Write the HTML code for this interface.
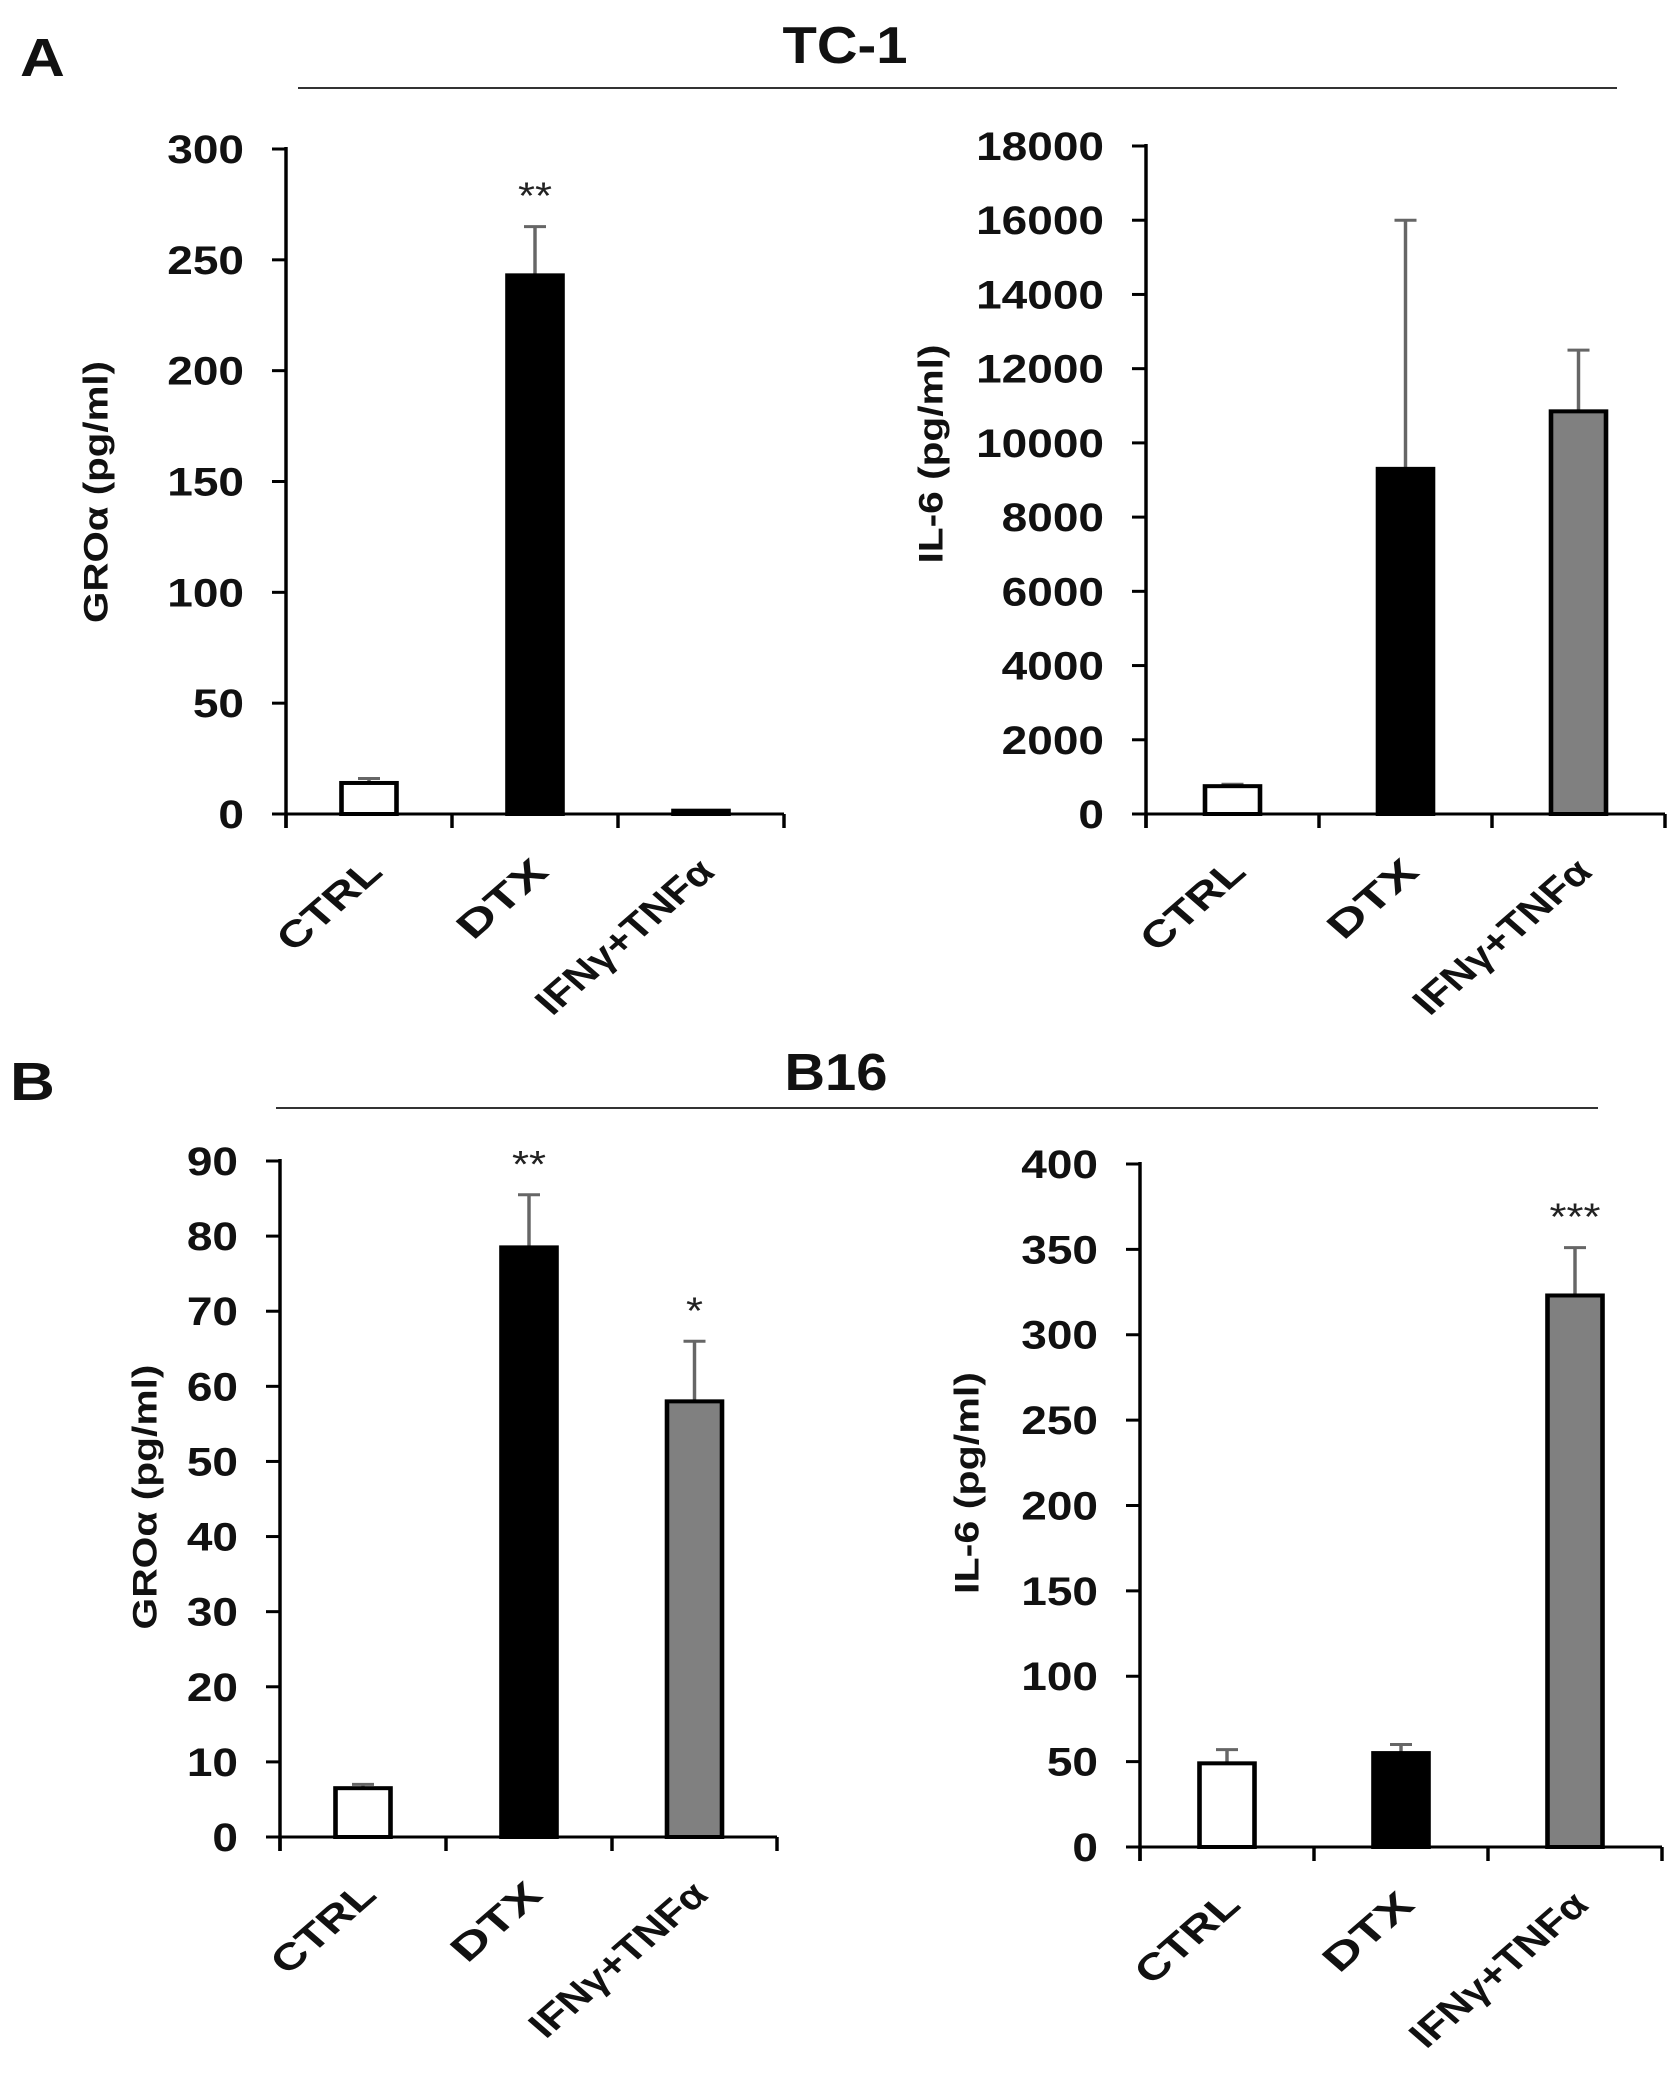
<!DOCTYPE html>
<html><head><meta charset="utf-8">
<style>
html,body{margin:0;padding:0;background:#fff;}
svg{display:block;}
text{font-family:"Liberation Sans",Arial,sans-serif;}
</style></head>
<body>
<svg id="fig" width="1677" height="2078" viewBox="0 0 1677 2078">
<g id="root" transform="scale(1.15,1)"></g>
</svg>
<script>
const SX = 1.15;
const categories = ["CTRL", "DTX", "IFNγ+TNFα"];
const fills = ["#ffffff", "#000000", "#808080"];
// Panel A left: GROα TC-1
const aLeftValues = [14, 243, 1.5];
const aLeftErrors = [16, 265, 1.5];
const aLeftTicks = [0, 50, 100, 150, 200, 250, 300];
const aLeftStars = ["", "**", ""];
// Panel A right: IL-6 TC-1
const aRightValues = [750, 9300, 10850];
const aRightErrors = [800, 16000, 12500];
const aRightTicks = [0, 2000, 4000, 6000, 8000, 10000, 12000, 14000, 16000, 18000];
const aRightStars = ["", "", ""];
// Panel B left: GROα B16
const bLeftValues = [6.5, 78.5, 58];
const bLeftErrors = [7, 85.5, 66];
const bLeftTicks = [0, 10, 20, 30, 40, 50, 60, 70, 80, 90];
const bLeftStars = ["", "**", "*"];
// Panel B right: IL-6 B16
const bRightValues = [49, 55, 323];
const bRightErrors = [57, 60, 351];
const bRightTicks = [0, 50, 100, 150, 200, 250, 300, 350, 400];
const bRightStars = ["", "", "***"];

const NS = "http://www.w3.org/2000/svg";
const root = document.getElementById("root");
function mk(tag, attrs, parent, txt){
  const e = document.createElementNS(NS, tag);
  for (const k in attrs) e.setAttribute(k, attrs[k]);
  if (txt !== undefined) e.textContent = txt;
  (parent||root).appendChild(e);
  return e;
}
const X = x => x / SX;

function panel(cfg){
  const g = mk("g", {});
  
  
  const max = cfg.ticks[cfg.ticks.length-1];
  const yS = v => cfg.y0 - (v / max) * (cfg.y0 - cfg.yTop);
  // y axis
  const ya = mk("line", {x1:X(cfg.ax), x2:X(cfg.ax), y1:cfg.yTop-2, y2:cfg.y0+14, stroke:"#000","stroke-width":3}, g);
  
  
  cfg.ticks.forEach(t => {
    const y = yS(t);
    mk("line", {x1:X(cfg.ax-14), x2:X(cfg.ax), y1:y, y2:y, stroke:"#000","stroke-width":3}, g);
    const tl = mk("text", {x:X(cfg.ax-42), y:y+14, "text-anchor":"end", "font-size":40, "font-weight":"bold", fill:"#111"}, g, String(t));
    
    
  });
  // x axis
  const xa = mk("line", {x1:X(cfg.ax), x2:X(cfg.xt[3]), y1:cfg.y0, y2:cfg.y0, stroke:"#000","stroke-width":3}, g);
  
  
  cfg.xt.forEach(x => mk("line", {x1:X(x), x2:X(x), y1:cfg.y0, y2:cfg.y0+14, stroke:"#000","stroke-width":3}, g));
  // y title
  const yt = mk("text", {x:0, y:0, "text-anchor":"middle", "font-size":30, "font-weight":"bold", fill:"#111",
    textLength:cfg.titleLen, lengthAdjust:"spacingAndGlyphs",
    transform:`translate(${X(cfg.titleX)+10},${cfg.titleY}) rotate(-90)`}, g, cfg.title);
  
  
  // bars
  const labelLens = [112, 95, 202];
  cfg.values.forEach((v, i) => {
    const cx = (cfg.xt[i] + cfg.xt[i+1]) / 2;
    const w = 55;
    const yTopBar = yS(v), yErr = yS(cfg.errors[i]);
    const el = mk("line", {x1:X(cx), x2:X(cx), y1:yTopBar, y2:yErr, stroke:"#666","stroke-width":3}, g);
    
    
    mk("line", {x1:X(cx-11), x2:X(cx+11), y1:yErr, y2:yErr, stroke:"#666","stroke-width":3}, g);
    const b = mk("rect", {x:X(cx - w/2), y:yTopBar, width:X(w), height:Math.max(cfg.y0 - yTopBar, 1),
      fill:fills[i], stroke:"#000", "stroke-width":4}, g);
    
    
    if (cfg.stars[i]) {
      const s = mk("text", {x:X(cx), y:yErr - 18, "text-anchor":"middle", "font-size":38, fill:"#222"}, g, cfg.stars[i]);
      
      
    }
    const lx = X(cx + 4), ly = cfg.y0 + 50;
    const lab = mk("text", {x:0, y:0, "text-anchor":"end", "font-size":36, "font-weight":"bold", fill:"#111",
      textLength:labelLens[i], lengthAdjust:"spacingAndGlyphs",
      transform:`translate(${lx},${ly}) rotate(-45) translate(0,${14})`}, g, categories[i]);
    
    
  });
}

function header(letter, lx, ly, title, tcx, tby, tlen, lineY, lx1, lx2){
  const a = mk("text", {x:X(lx), y:ly, "font-size":54, "font-weight":"bold", fill:"#111"}, root, letter);
  
  
  const t = mk("text", {x:X(tcx), y:tby, "text-anchor":"middle", "font-size":52, "font-weight":"bold", fill:"#111",
    textLength:X(tlen), lengthAdjust:"spacingAndGlyphs"}, root, title);
  
  
  const l = mk("line", {x1:X(lx1), x2:X(lx2), y1:lineY, y2:lineY, stroke:"#333", "stroke-width":2}, root);
  
  
}

header("A", 20, 76, "TC-1", 845, 63, 125, 88, 298, 1617);
header("B", 10, 1100, "B16", 836, 1090, 103, 1108, 276, 1598);

panel({name:"chart-a-groa", ax:286, xt:[286,452,618,784], y0:814, yTop:149, ticks:aLeftTicks,
  values:aLeftValues, errors:aLeftErrors, stars:aLeftStars, title:"GROα (pg/ml)", titleX:96, titleY:492, titleLen:262});
panel({name:"chart-a-il6", ax:1146, xt:[1146,1319,1492,1665], y0:814, yTop:146, ticks:aRightTicks,
  values:aRightValues, errors:aRightErrors, stars:aRightStars, title:"IL-6 (pg/ml)", titleX:931, titleY:454, titleLen:219});
panel({name:"chart-b-groa", ax:280, xt:[280,446,612,777], y0:1837, yTop:1161, ticks:bLeftTicks,
  values:bLeftValues, errors:bLeftErrors, stars:bLeftStars, title:"GROα (pg/ml)", titleX:145, titleY:1497, titleLen:265});
panel({name:"chart-b-il6", ax:1140, xt:[1140,1314,1488,1662], y0:1847, yTop:1164, ticks:bRightTicks,
  values:bRightValues, errors:bRightErrors, stars:bRightStars, title:"IL-6 (pg/ml)", titleX:967, titleY:1483, titleLen:222});
</script>
</body></html>
